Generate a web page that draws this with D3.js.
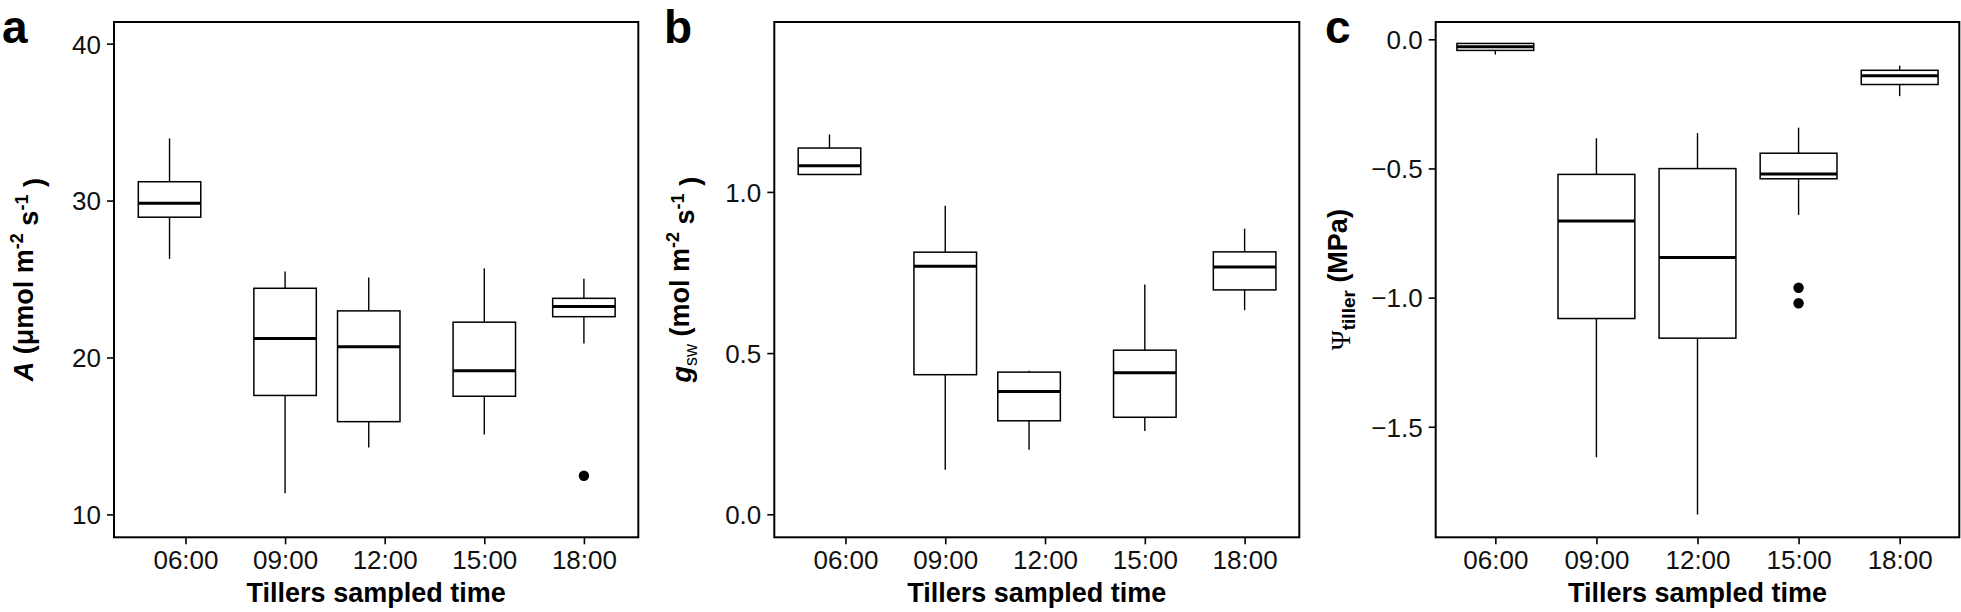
<!DOCTYPE html>
<html>
<head>
<meta charset="utf-8">
<script src="https://cdn.jsdelivr.net/npm/d3@7"></script>
<style>
  html, body { margin: 0; padding: 0; background: #fff; }
  svg { display: block; font-family: "Liberation Sans", Arial, sans-serif; }
</style>
</head>
<body>
<svg id="chart" width="1961" height="612"></svg>
<script>
// ---- data ----
const categories = ["06:00", "09:00", "12:00", "15:00", "18:00"];

// Panel a: net photosynthesis A
const aLow  = [26.28, 11.34, 14.27, 15.09, 20.89];
const aQ1   = [28.94, 17.58, 15.91, 17.53, 22.60];
const aMed  = [29.83, 21.21, 20.69, 19.15, 23.25];
const aQ3   = [31.20, 24.41, 22.97, 22.25, 23.77];
const aHigh = [33.96, 25.48, 25.09, 25.68, 25.01];
const aOut  = [[], [], [], [], [12.46]];
const aTicks = [10, 20, 30, 40];

// Panel b: stomatal conductance gsw
const gLow  = [1.054, 0.138, 0.200, 0.258, 0.633];
const gQ1   = [1.054, 0.433, 0.290, 0.301, 0.696];
const gMed  = [1.081, 0.769, 0.381, 0.439, 0.767];
const gQ3   = [1.136, 0.813, 0.441, 0.509, 0.814];
const gHigh = [1.178, 0.957, 0.4455, 0.713, 0.886];
const gOut  = [[], [], [], [], []];
const gTicks = [0.0, 0.5, 1.0];

// Panel c: tiller water potential
const pLow  = [-0.059, -1.618, -1.840, -0.680, -0.220];
const pQ1   = [-0.043, -1.081, -1.157, -0.540, -0.175];
const pMed  = [-0.029, -0.703, -0.845, -0.521, -0.141];
const pQ3   = [-0.016, -0.523, -0.5005, -0.441, -0.120];
const pHigh = [-0.016, -0.383, -0.363, -0.342, -0.102];
const pOut  = [[], [], [], [-0.962, -1.022], []];
const pTicks = [-1.5, -1.0, -0.5, 0.0];

// dodge offsets of boxes (in category units) as they appear in the figure
const dodgeAB = [-0.16, 0, -0.16, 0, 0];
const dodgeC  = [0, 0, 0, 0, 0];

// ---- drawing ----
const svg = d3.select("#chart");
const TICK_FONT = 26;
const TITLE_FONT = 27;

function drawPanel(cfg) {
  const g = svg.append("g");
  const x = d3.scaleLinear().domain(cfg.xDomain).range([cfg.left, cfg.right]);
  const y = d3.scaleLinear().domain(cfg.yDomain).range([cfg.bottom, cfg.top]);
  const bw = x(1 + cfg.boxWidth) - x(1);

  const data = categories.map((c, i) => ({
    cat: c, i: i + 1,
    lo: cfg.low[i], q1: cfg.q1[i], med: cfg.med[i], q3: cfg.q3[i], hi: cfg.high[i],
    out: cfg.out[i], dx: cfg.dodge[i]
  }));

  const boxes = g.selectAll("g.box").data(data).join("g").attr("class", "box");
  // whiskers
  boxes.append("line")
    .attr("x1", d => x(d.i + d.dx)).attr("x2", d => x(d.i + d.dx))
    .attr("y1", d => y(d.hi)).attr("y2", d => y(d.q3))
    .attr("stroke", "#000").attr("stroke-width", 1.4);
  boxes.append("line")
    .attr("x1", d => x(d.i + d.dx)).attr("x2", d => x(d.i + d.dx))
    .attr("y1", d => y(d.q1)).attr("y2", d => y(d.lo))
    .attr("stroke", "#000").attr("stroke-width", 1.4);
  // box
  boxes.append("rect")
    .attr("x", d => x(d.i + d.dx) - bw / 2)
    .attr("width", bw)
    .attr("y", d => y(d.q3))
    .attr("height", d => Math.max(0.5, y(d.q1) - y(d.q3)))
    .attr("fill", "#fff").attr("stroke", "#000").attr("stroke-width", 1.5);
  // median
  boxes.append("line")
    .attr("x1", d => x(d.i + d.dx) - bw / 2).attr("x2", d => x(d.i + d.dx) + bw / 2)
    .attr("y1", d => y(d.med)).attr("y2", d => y(d.med))
    .attr("stroke", "#000").attr("stroke-width", 3);
  // outliers
  boxes.selectAll("circle").data(d => d.out.map(v => ({ v, xi: d.i + d.dx }))).join("circle")
    .attr("cx", d => x(d.xi)).attr("cy", d => y(d.v)).attr("r", 5.2).attr("fill", "#000");

  // axes
  const yAxis = d3.axisLeft(y).tickValues(cfg.yTicks).tickFormat(cfg.yFormat)
    .tickSize(7).tickPadding(6);
  const ya = g.append("g").attr("transform", `translate(${cfg.left},0)`).call(yAxis);
  ya.select(".domain").remove();
  ya.selectAll(".tick line").attr("stroke", "#000").attr("stroke-width", 1.6);
  ya.selectAll(".tick text").attr("fill", "#111").style("font-size", TICK_FONT + "px")
    .style("font-family", "Liberation Sans, Arial, sans-serif").attr("dy", "0.36em");

  const xAxis = d3.axisBottom(x).tickValues(categories.map((c, i) => i + 1))
    .tickFormat(v => categories[v - 1]).tickSize(7).tickPadding(6);
  const xa = g.append("g").attr("transform", `translate(0,${cfg.bottom})`).call(xAxis);
  xa.select(".domain").remove();
  xa.selectAll(".tick line").attr("stroke", "#000").attr("stroke-width", 1.6);
  xa.selectAll(".tick text").attr("fill", "#111").style("font-size", TICK_FONT + "px")
    .style("font-family", "Liberation Sans, Arial, sans-serif").attr("dy", "0.71em");

  // panel border
  g.append("rect").attr("x", cfg.left).attr("y", cfg.top)
    .attr("width", cfg.right - cfg.left).attr("height", cfg.bottom - cfg.top)
    .attr("fill", "none").attr("stroke", "#000").attr("stroke-width", 2);

  // x title
  g.append("text").attr("x", (cfg.left + cfg.right) / 2).attr("y", 602)
    .attr("text-anchor", "middle").style("font-weight", "bold")
    .style("font-size", TITLE_FONT + "px").attr("fill", "#000")
    .text("Tillers sampled time");

  // y title
  const yt = g.append("text")
    .attr("transform", `translate(${cfg.left - cfg.yTitleOffset},${(cfg.top + cfg.bottom) / 2}) rotate(-90)`)
    .attr("text-anchor", "middle").style("font-weight", "bold")
    .style("font-size", TITLE_FONT + "px").attr("fill", "#000");
  cfg.yTitle(yt);

  // panel letter
  g.append("text").attr("x", cfg.letterX).attr("y", 43)
    .style("font-weight", "bold").style("font-size", "46px").attr("fill", "#000")
    .text(cfg.letter);
}

function sup(t, s) {
  t.append("tspan").attr("dy", "-0.55em").style("font-size", "17px").text(s);
  return t;
}

const f1 = d3.format(".1f");

drawPanel({
  left: 114, right: 638.3, top: 22, bottom: 537.3,
  xDomain: [0.2825, 5.546], yDomain: [8.54, 41.38],
  low: aLow, q1: aQ1, med: aMed, q3: aQ3, high: aHigh, out: aOut, dodge: dodgeAB,
  boxWidth: 0.627, yTicks: aTicks, yFormat: d3.format("d"),
  yTitleOffset: 81, letter: "a", letterX: 2,
  yTitle: t => {
    t.append("tspan").style("font-style", "italic").text("A");
    t.append("tspan").text(" (μmol m");
    t.append("tspan").attr("dy", "-0.55em").style("font-size", "18px").text("-2");
    t.append("tspan").attr("dy", "0.55em").text(" s");
    t.append("tspan").attr("dy", "-0.55em").style("font-size", "18px").text("-1");
    t.append("tspan").attr("dy", "0.55em").text(" )");
  }
});

drawPanel({
  left: 774.3, right: 1299.3, top: 22, bottom: 537.3,
  xDomain: [0.287, 5.548], yDomain: [-0.0714, 1.527],
  low: gLow, q1: gQ1, med: gMed, q3: gQ3, high: gHigh, out: gOut, dodge: dodgeAB,
  boxWidth: 0.627, yTicks: gTicks, yFormat: f1,
  yTitleOffset: 83, letter: "b", letterX: 664,
  yTitle: t => {
    t.append("tspan").style("font-style", "italic").text("g");
    t.append("tspan").attr("dy", "0.3em").style("font-size", "18px").style("font-weight", "normal").text("sw");
    t.append("tspan").attr("dy", "-0.3em").text(" (mol m");
    t.append("tspan").attr("dy", "-0.55em").style("font-size", "18px").text("-2");
    t.append("tspan").attr("dy", "0.55em").text(" s");
    t.append("tspan").attr("dy", "-0.55em").style("font-size", "18px").text("-1");
    t.append("tspan").attr("dy", "0.55em").text(" )");
  }
});

drawPanel({
  left: 1435.7, right: 1959.3, top: 22, bottom: 537.3,
  xDomain: [0.41, 5.59], yDomain: [-1.928, 0.067],
  low: pLow, q1: pQ1, med: pMed, q3: pQ3, high: pHigh, out: pOut, dodge: dodgeC,
  boxWidth: 0.76, yTicks: pTicks, yFormat: f1,
  yTitleOffset: 86, letter: "c", letterX: 1325,
  yTitle: t => {
    t.append("tspan").style("font-family", "Liberation Serif, DejaVu Serif, serif")
      .style("font-weight", "normal").text("Ψ");
    t.append("tspan").attr("dy", "0.3em").style("font-size", "19px").text("tiller");
    t.append("tspan").attr("dy", "-0.3em").text(" (MPa)");
  }
});
</script>
</body>
</html>
